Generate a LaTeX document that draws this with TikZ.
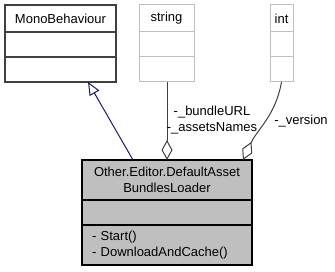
\documentclass[tikz,border=0pt]{standalone}
\usepackage{fontspec}
\setmainfont{Liberation Sans}
\usetikzlibrary{arrows.meta,positioning}
\definecolor{edgegray}{HTML}{404040}
\definecolor{boxgray}{HTML}{BFBFBF}
\definecolor{navyline}{HTML}{191970}

\begin{document}
\begin{tikzpicture}[
    x=1pt, y=1pt,
    font=\fontsize{13}{15.5}\selectfont,
    part/.style={rectangle, outer sep=0pt, inner sep=0pt, minimum height=25pt},
    base/.style={part, draw=edgegray, line width=1.3pt, minimum width=111pt},
    plain/.style={part, draw=boxgray, line width=1pt},
    main/.style={part, draw=black, fill=boxgray, line width=1.2pt, minimum width=170pt},
    inherit/.style={-{Triangle[open, length=13pt, width=11pt]}, navyline, line width=1pt},
    member/.style={{Diamond[open, length=20pt, width=11pt]}-, edgegray, line width=1pt},
    lbl/.style={inner sep=0pt, align=center}
  ]
  \useasboundingbox (0,0) rectangle (335,-272);

  % parent and member types
  \node[base, minimum height=27pt, anchor=north west] (mono) at (5,-5) {MonoBehaviour};
  \node[base, below=0pt of mono] (mono-attr) {};
  \node[base, below=0pt of mono-attr] (mono-ops) {};

  \node[plain, minimum width=55pt, minimum height=27pt, anchor=north west] (string) at (139,-5) {string};
  \node[plain, minimum width=55pt, below=0pt of string] (string-attr) {};
  \node[plain, minimum width=55pt, below=0pt of string-attr] (string-ops) {};

  \node[plain, minimum width=23pt, minimum height=27pt, anchor=north west] (int) at (270,-5) {int};
  \node[plain, minimum width=23pt, below=0pt of int] (int-attr) {};
  \node[plain, minimum width=23pt, below=0pt of int-attr] (int-ops) {};

  % the loader class
  \node[main, minimum height=40pt, align=center, anchor=north west] (loader) at (82,-160) {Other.Editor.DefaultAsset\\BundlesLoader};
  \node[main, below=0pt of loader] (loader-attr) {};
  \node[main, minimum height=40pt, text width=150pt, inner xsep=10pt, align=left, below=0pt of loader-attr] (loader-ops) {- Start()\\- DownloadAndCache()};

  \draw[inherit] ([xshift=51pt]loader.north west) -- ([xshift=83pt]mono-ops.south west);
  \draw[member] (loader.north) -- (loader.north |- string-ops.south);
  \draw[member] ([xshift=-9pt]loader.north east) to[out=65, in=-100] (int-ops.south);

  \node[lbl] (url-label) at (212,-120) {-\_bundleURL\\-\_assetsNames};
  \node[lbl] (version-label) at (301,-121) {-\_version};
\end{tikzpicture}
\end{document}
